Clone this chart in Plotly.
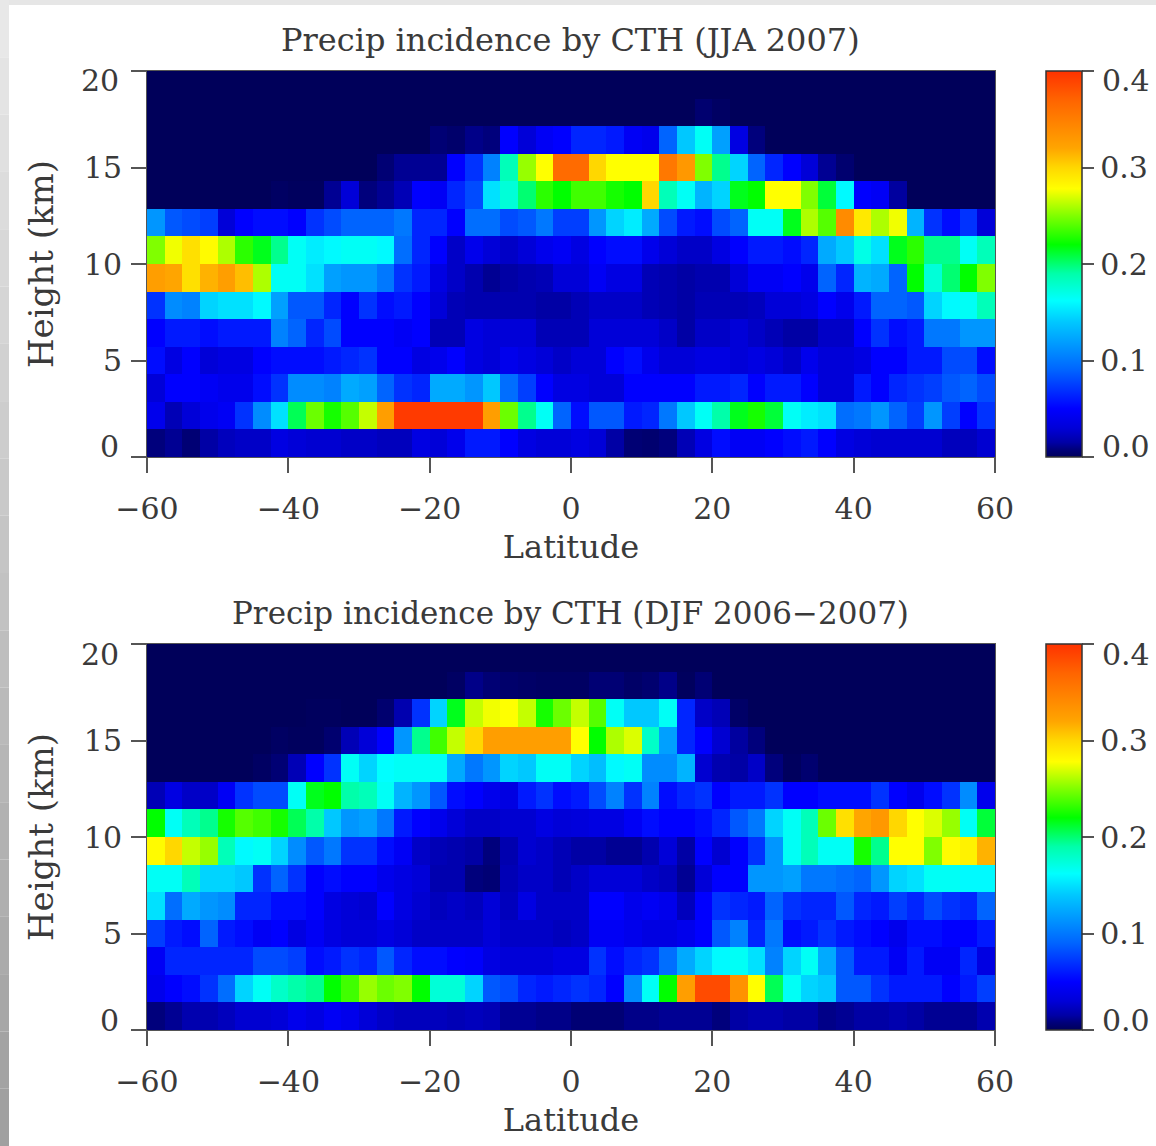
import numpy as np
import plotly.graph_objects as go

W, H = 1156, 1146
lat_edges = [-60 + 2.5 * i for i in range(49)]
hgt_edges = [20 * i / 14 for i in range(15)]

zero = [0.0] * 48
# JJA 2007, rows bottom to top
jja_r0 = [.008,.012,.006,.015,.022,.025,.025,.035,.03,.028,.028,.025,.025,.022,.022,.035,.03,.04,.06,.06,.05,.035,.03,.03,.035,.03,.015,.006,.005,.008,.02,.035,.055,.045,.045,.05,.055,.06,.05,.035,.03,.028,.028,.028,.028,.022,.022,.028]
jja_r1 = [.04,.02,.03,.04,.045,.07,.11,.15,.205,.245,.225,.24,.265,.325,.395,.395,.395,.395,.395,.325,.245,.195,.165,.09,.055,.085,.085,.06,.065,.10,.14,.165,.19,.215,.225,.21,.165,.155,.15,.095,.10,.115,.09,.075,.115,.075,.05,.07]
jja_r2 = [.03,.05,.05,.045,.04,.04,.055,.07,.11,.11,.105,.125,.12,.09,.07,.065,.125,.125,.115,.14,.095,.075,.05,.035,.035,.03,.03,.05,.05,.05,.05,.06,.06,.065,.05,.06,.06,.05,.03,.03,.06,.05,.065,.07,.075,.085,.09,.08]
jja_r3 = [.055,.035,.05,.03,.035,.035,.05,.055,.055,.055,.06,.065,.07,.05,.05,.035,.04,.05,.035,.03,.04,.035,.03,.025,.03,.03,.05,.055,.04,.03,.03,.035,.035,.03,.035,.03,.025,.04,.03,.03,.035,.05,.05,.06,.06,.08,.08,.055]
jja_r4 = [.05,.06,.06,.055,.06,.06,.06,.105,.09,.065,.08,.05,.05,.05,.045,.05,.02,.02,.035,.03,.03,.03,.02,.02,.02,.03,.03,.03,.03,.025,.015,.025,.025,.03,.025,.02,.015,.015,.025,.025,.05,.07,.055,.06,.10,.10,.115,.115]
jja_r5 = [.07,.11,.105,.145,.15,.15,.16,.12,.085,.085,.065,.05,.07,.055,.06,.05,.03,.02,.018,.018,.018,.018,.015,.015,.02,.025,.025,.025,.02,.018,.015,.02,.02,.02,.022,.03,.03,.035,.05,.04,.06,.09,.09,.085,.145,.16,.165,.185]
jja_r6 = [.325,.32,.295,.315,.325,.31,.26,.165,.165,.15,.12,.115,.115,.10,.07,.06,.035,.025,.018,.012,.015,.018,.02,.03,.03,.045,.035,.035,.02,.018,.015,.018,.018,.03,.045,.045,.05,.04,.09,.065,.13,.125,.09,.22,.175,.20,.22,.25]
jja_r7 = [.25,.275,.295,.28,.26,.23,.215,.195,.165,.155,.16,.165,.165,.16,.095,.065,.05,.025,.04,.03,.025,.03,.04,.045,.035,.05,.055,.055,.04,.03,.025,.025,.035,.05,.06,.06,.055,.065,.125,.14,.17,.15,.215,.23,.195,.195,.165,.185]
jja_r8 = [.115,.085,.08,.075,.03,.05,.055,.055,.05,.07,.08,.09,.09,.09,.10,.065,.065,.05,.095,.095,.08,.085,.10,.075,.075,.115,.145,.155,.125,.08,.06,.055,.08,.09,.165,.165,.215,.26,.24,.34,.29,.26,.275,.13,.07,.055,.07,.03]
jja_r9 = [0,0,0,0,0,0,0,.002,.001,.001,.012,.03,.008,.012,.02,.05,.045,.065,.08,.15,.175,.20,.23,.22,.235,.235,.225,.22,.30,.185,.165,.13,.145,.215,.22,.278,.278,.25,.21,.16,.05,.045,.014,0,0,0,0,0]
jja_r10 = [0,0,0,0,0,0,0,0,0,0,0,0,0,.006,.012,.012,.012,.05,.07,.105,.185,.255,.278,.365,.365,.30,.278,.278,.278,.355,.33,.25,.195,.145,.09,.065,.05,.03,.012,.005,0,0,0,0,0,0,0,0]
jja_r11 = [0,0,0,0,0,0,0,0,0,0,0,0,0,0,0,0,.006,.004,.01,.008,.05,.03,.045,.05,.065,.065,.06,.045,.04,.09,.14,.165,.12,.035,.008,0,0,0,0,0,0,0,0,0,0,0,0,0]
jja_r12 = [0,0,0,0,0,0,0,0,0,0,0,0,0,0,0,0,0,0,0,0,0,0,0,0,0,0,0,0,0,0,0,.005,.002,0,0,0,0,0,0,0,0,0,0,0,0,0,0,0]
jja_r13 = zero

# DJF 2006-2007, rows bottom to top
djf_r0 = [.008,.012,.018,.018,.022,.028,.028,.03,.04,.035,.045,.04,.03,.025,.022,.022,.022,.02,.022,.02,.012,.012,.01,.01,.006,.006,.006,.01,.01,.012,.012,.012,.008,.015,.018,.018,.015,.015,.01,.012,.015,.015,.018,.015,.012,.012,.012,.018]
djf_r1 = [.04,.05,.055,.07,.095,.145,.165,.18,.19,.195,.22,.235,.255,.245,.25,.22,.175,.175,.145,.085,.08,.065,.06,.065,.07,.065,.05,.11,.165,.22,.325,.385,.385,.335,.278,.205,.165,.145,.14,.085,.085,.07,.06,.06,.06,.05,.06,.075]
djf_r2 = [.045,.065,.065,.065,.065,.065,.08,.08,.075,.055,.06,.07,.065,.085,.065,.055,.055,.05,.048,.035,.03,.03,.03,.035,.035,.07,.055,.065,.07,.095,.125,.145,.16,.165,.15,.105,.145,.165,.125,.085,.06,.06,.045,.06,.045,.045,.065,.035]
djf_r3 = [.075,.06,.055,.09,.06,.055,.045,.05,.035,.045,.035,.03,.03,.035,.03,.025,.025,.025,.025,.03,.025,.025,.025,.022,.025,.045,.045,.04,.035,.035,.04,.05,.085,.105,.065,.10,.055,.06,.07,.06,.055,.05,.04,.055,.055,.05,.05,.06]
djf_r4 = [.15,.095,.125,.115,.11,.065,.065,.055,.055,.05,.035,.03,.028,.05,.035,.028,.022,.025,.022,.03,.022,.035,.025,.025,.025,.05,.05,.04,.045,.04,.022,.05,.07,.065,.06,.09,.07,.065,.065,.085,.065,.06,.075,.065,.08,.07,.065,.09]
djf_r5 = [.165,.165,.185,.145,.145,.14,.07,.09,.07,.05,.055,.05,.05,.04,.035,.03,.018,.018,.008,.006,.02,.025,.025,.02,.025,.03,.03,.03,.025,.022,.012,.03,.05,.05,.115,.115,.12,.10,.10,.095,.09,.115,.145,.15,.165,.165,.16,.16]
djf_r6 = [.28,.30,.265,.255,.185,.16,.165,.145,.11,.085,.10,.07,.07,.055,.045,.025,.02,.018,.015,.008,.018,.028,.025,.02,.015,.015,.012,.012,.018,.03,.015,.05,.028,.05,.07,.115,.165,.185,.165,.165,.225,.195,.278,.278,.25,.28,.285,.315]
djf_r7 = [.22,.165,.185,.195,.225,.24,.235,.225,.205,.19,.14,.115,.12,.10,.06,.05,.04,.03,.025,.025,.028,.028,.035,.03,.032,.035,.035,.045,.055,.05,.05,.055,.065,.085,.10,.145,.165,.185,.245,.295,.32,.33,.30,.278,.27,.255,.165,.21]
djf_r8 = [.02,.035,.025,.025,.045,.07,.08,.08,.165,.215,.22,.19,.185,.165,.13,.115,.085,.055,.05,.04,.035,.06,.07,.055,.06,.08,.105,.07,.105,.055,.065,.07,.05,.06,.06,.07,.05,.05,.055,.055,.055,.07,.05,.04,.055,.07,.11,.04]
djf_r9 = [0,0,0,0,0,0,.002,.006,.02,.05,.07,.165,.145,.162,.165,.165,.165,.125,.10,.115,.145,.14,.165,.165,.145,.135,.16,.165,.11,.11,.13,.028,.018,.015,.025,.008,.001,.005,0,0,0,0,0,0,0,0,0,0]
djf_r10 = [0,0,0,0,0,0,0,.002,.001,.001,.005,.02,.03,.05,.115,.195,.235,.265,.30,.325,.325,.325,.325,.325,.278,.22,.26,.27,.18,.12,.065,.05,.028,.014,.008,0,0,0,0,0,0,0,0,0,0,0,0,0]
djf_r11 = [0,0,0,0,0,0,0,0,0,.001,.001,0,0,.005,.018,.07,.145,.215,.265,.275,.278,.265,.225,.245,.265,.24,.165,.14,.14,.165,.065,.025,.02,.003,0,0,0,0,0,0,0,0,0,0,0,0,0,0]
djf_r12 = [0,0,0,0,0,0,0,0,0,0,0,0,0,0,0,0,0,.002,.01,.006,.004,.003,.002,.002,.002,.006,.006,.003,.005,.01,.001,.006,0,0,0,0,0,0,0,0,0,0,0,0,0,0,0,0]
djf_r13 = zero

jja_rows = [jja_r0,jja_r1,jja_r2,jja_r3,jja_r4,jja_r5,jja_r6,jja_r7,jja_r8,jja_r9,jja_r10,jja_r11,jja_r12,jja_r13]
djf_rows = [djf_r0,djf_r1,djf_r2,djf_r3,djf_r4,djf_r5,djf_r6,djf_r7,djf_r8,djf_r9,djf_r10,djf_r11,djf_r12,djf_r13]

panel_titles = ["Precip incidence by CTH (JJA 2007)", "Precip incidence by CTH (DJF 2006\u22122007)"]
title_sizes = [32, 31]
x_label = "Latitude"
y_label = "Height (km)"
x_ticks = [-60, -40, -20, 0, 20, 40, 60]
x_ticktext = ["\u221260", "\u221240", "\u221220", "0", "20", "40", "60"]
y_ticks = [0, 5, 10, 15, 20]
y_ticktext = ["", "5", "10", "15", ""]
cb_ticks = [0, 0.1, 0.2, 0.3, 0.4]
cb_ticktext = ["", "0.1", "0.2", "0.3", ""]

stops = [(0, "#00005a"), (.008, "#00007c"), (.015, "#0000a5"), (.03, "#0000d8"), (.05, "#0000ff"), (.07, "#0032ff"),
         (.09, "#0064ff"), (.115, "#0096ff"), (.14, "#00c8ff"), (.162, "#00ffff"), (.19, "#00ffaa"),
         (.22, "#00ff00"), (.25, "#80ff00"), (.278, "#ffff00"), (.30, "#ffd700"), (.32, "#ffa500"),
         (.37, "#ff6400"), (.40, "#ff3200")]
colorscale = [[v / 0.4, c] for v, c in stops]

FONT = "DejaVu Serif"
INK = "#3a3a3a"
LINE = "#555555"
SIZE = 30
XLABEL = 32
YLABEL = 34

fig = go.Figure()
tops = [71, 644]
span = 386
annotations = []
for i, (rows, ttl) in enumerate(zip([jja_rows, djf_rows], panel_titles)):
    top = tops[i]
    dom = [1 - (top + span) / H, 1 - top / H]
    s = "" if i == 0 else "2"
    fig.add_trace(go.Heatmap(
        x=lat_edges, y=hgt_edges, z=rows, zmin=0, zmax=0.4, colorscale=colorscale,
        xaxis="x" + s, yaxis="y" + s, xgap=0, ygap=0, hoverinfo="skip",
        colorbar=dict(x=1046 / W, xanchor="left", xpad=0, ypad=0, y=dom[0], yanchor="bottom",
                      len=dom[1] - dom[0], lenmode="fraction", thickness=36, thicknessmode="pixels",
                      tickvals=cb_ticks, ticktext=cb_ticktext, ticks="outside", ticklen=12, tickwidth=1.5,
                      tickcolor=LINE, outlinecolor="#333333", outlinewidth=1.5,
                      tickfont=dict(family=FONT, size=SIZE, color=INK)),
    ))
    ax = dict(range=[-60, 60], domain=[147 / W, 995 / W], tickvals=x_ticks, ticktext=x_ticktext,
              ticks="outside", ticklen=15, tickwidth=1.5, tickcolor=LINE, showline=True, mirror=True,
              linecolor=LINE, linewidth=1, showgrid=False, zeroline=False, tickangle=0, automargin=False,
              ticklabelstandoff=10,
              tickfont=dict(family=FONT, size=SIZE, color=INK),
              title=dict(text=x_label, standoff=10, font=dict(family=FONT, size=XLABEL, color=INK)))
    ay = dict(range=[0, 20], domain=dom, tickvals=y_ticks, ticktext=y_ticktext,
              ticks="outside", ticklen=15, tickwidth=1.5, tickcolor=LINE, showline=True, mirror=True,
              linecolor=LINE, linewidth=1, showgrid=False, zeroline=False, automargin=False,
              ticklabelstandoff=3,
              tickfont=dict(family=FONT, size=SIZE, color=INK),
              title=dict(text=y_label, standoff=19, font=dict(family=FONT, size=YLABEL, color=INK)))
    if i:
        ax["anchor"] = "y2"
        ay["anchor"] = "x2"
    fig.update_layout({"xaxis" + s: ax, "yaxis" + s: ay})

    annotations.append(dict(text=ttl, xref="paper", yref="paper", x=570 / W, y=1 - (top - 31) / H,
                            showarrow=False, font=dict(family=FONT, size=title_sizes[i], color=INK),
                            xanchor="center", yanchor="middle"))
    # end tick labels sit inside the axis span, as in the original
    for val, shift, txt in [(20, -10, "20"), (0, 10, "0")]:
        annotations.append(dict(text=txt, xref="paper", yref="y" + s, x=121 / W, y=val, yshift=shift,
                                showarrow=False, font=dict(family=FONT, size=SIZE, color=INK),
                                xanchor="right", yanchor="middle"))
    for val, shift, txt in [(20, -10, "0.4"), (0, 10, "0.0")]:
        annotations.append(dict(text=txt, xref="paper", yref="y" + s, x=1100 / W, y=val, yshift=shift,
                                showarrow=False, font=dict(family=FONT, size=SIZE, color=INK),
                                xanchor="left", yanchor="middle"))

# grey picture edge of the original image
shapes = [dict(type="rect", xref="paper", yref="paper", x0=0, x1=1, y0=1 - 5 / H, y1=1,
               fillcolor="#e6e6e6", line_width=0, layer="below")]
for k in range(20):
    g = int(232 - 72 * k / 19)
    shapes.append(dict(type="rect", xref="paper", yref="paper", x0=0, x1=9 / W,
                       y0=1 - (k + 1) / 20, y1=1 - k / 20, fillcolor=f"rgb({g},{g},{g})",
                       line_width=0, layer="below"))

fig.update_layout(width=W, height=H, margin=dict(l=0, r=0, t=0, b=0, autoexpand=False), paper_bgcolor="white",
                  plot_bgcolor="white", showlegend=False, annotations=annotations, shapes=shapes)
fig.write_html("out.html", config={"displayModeBar": False},
               post_script="document.body.style.margin='0';document.body.style.overflow='hidden';")
